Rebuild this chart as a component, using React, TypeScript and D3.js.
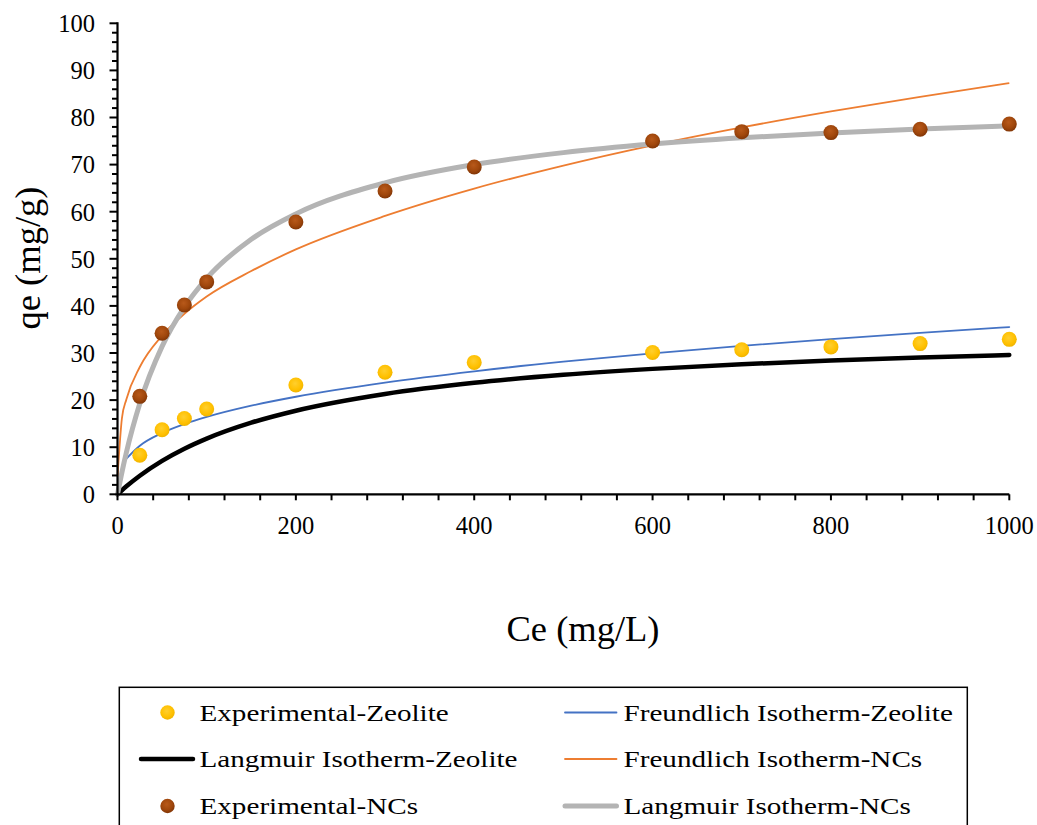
import React from "react";
import * as d3 from "d3";

// ---- data ----
const ceExp = [25, 50, 75, 100, 200, 300, 400, 600, 700, 800, 900, 1000];
const qeExpZeolite = [8.3, 13.7, 16.1, 18.1, 23.2, 25.9, 28.0, 30.1, 30.7, 31.3, 32.0, 32.9];
const qeExpNCs = [20.8, 34.2, 40.2, 45.1, 57.8, 64.4, 69.5, 75.0, 77.0, 76.8, 77.5, 78.6];

const ceLangmuir = [0, 5, 10, 25, 50, 75, 100, 150, 200, 300, 400, 500, 600, 700, 800, 900, 1000];
const qeLangmuirZeolite = [0, 0.87, 1.69, 3.94, 7.1, 9.68, 11.83, 15.21, 17.75, 21.3, 23.67, 25.36, 26.63, 27.61, 28.4, 29.05, 29.58];
const qeLangmuirNCs = [0, 4.71, 8.92, 19.26, 31.4, 39.75, 45.85, 54.15, 59.54, 66.13, 70.0, 72.54, 74.35, 75.69, 76.73, 77.56, 78.24];

const ceFreundlichNCs = [0.05, 5, 10, 25, 50, 75, 100, 150, 200, 300, 400, 500, 600, 700, 800, 900, 1000];
const qeFreundlichNCs = [3.75, 16.2, 20.19, 27.03, 33.69, 38.33, 42.0, 47.4, 52.0, 59.1, 64.9, 69.8, 74.1, 77.9, 81.3, 84.4, 87.3];

const ceFreundlichZeolite = [10, 25, 50, 75, 100, 150, 200, 300, 400, 500, 600, 700, 800, 900, 1000];
const qeFreundlichZeolite = [7.59, 10.32, 13.02, 14.91, 16.42, 18.81, 20.71, 23.72, 26.12, 28.15, 29.92, 31.51, 32.95, 34.28, 35.51];

const xTickLabels = [0, 200, 400, 600, 800, 1000];
const yTickLabels = [0, 10, 20, 30, 40, 50, 60, 70, 80, 90, 100];

const xLabel = "Ce (mg/L)";
const yLabel = "qe (mg/g)";

const legendItems = [
  { label: "Experimental-Zeolite", kind: "dot", color: "url(#gYellow)", col: 0, row: 0 },
  { label: "Langmuir Isotherm-Zeolite", kind: "line", color: "#000000", width: 4.5, col: 0, row: 1 },
  { label: "Experimental-NCs", kind: "dot", color: "url(#gBrown)", col: 0, row: 2 },
  { label: "Freundlich Isotherm-Zeolite", kind: "line", color: "#4472C4", width: 1.8, col: 1, row: 0 },
  { label: "Freundlich Isotherm-NCs", kind: "line", color: "#ED7D31", width: 1.8, col: 1, row: 1 },
  { label: "Langmuir Isotherm-NCs", kind: "line", color: "#B4B4B4", width: 5, col: 1, row: 2 },
];

const FONT = "Liberation Serif";

export default function App() {
  const W = 1037;
  const H = 825;
  const x = d3.scaleLinear().domain([0, 1000]).range([117.5, 1009.3]);
  const y = d3.scaleLinear().domain([0, 100]).range([494.3, 23.3]);

  const mk = (xs: number[], ys: number[]) =>
    d3
      .line<number>()
      .x((_, i) => x(xs[i]))
      .y((v) => y(v))
      .curve(d3.curveMonotoneX)(ys) as string;

  const xMinor = d3.range(0, 1001, 40);
  const yMinor = d3.range(0, 101, 2);

  const legendColX = [167.5, 565];
  const legendTextX = [199.5, 623.5];
  const legendRowY = [712.5, 759, 806];

  return (
    <svg
      width={W}
      height={H}
      style={{ position: "absolute", left: 0, top: 0, display: "block", background: "#fff" }}
    >
      <defs>
        <radialGradient id="gYellow" cx="45%" cy="40%" r="60%">
          <stop offset="0%" stopColor="#FFCF2E" />
          <stop offset="70%" stopColor="#FFC000" />
          <stop offset="100%" stopColor="#F0B400" />
        </radialGradient>
        <radialGradient id="gBrown" cx="45%" cy="38%" r="60%">
          <stop offset="0%" stopColor="#B8591A" />
          <stop offset="65%" stopColor="#A0470C" />
          <stop offset="100%" stopColor="#843707" />
        </radialGradient>
      </defs>
      <rect x={0} y={0} width={W} height={H} fill="#fff" />

      {/* fitted curves */}
      <path d={mk(ceFreundlichNCs, qeFreundlichNCs)} fill="none" stroke="#ED7D31" strokeWidth={1.8} />
      <path d={mk(ceFreundlichZeolite, qeFreundlichZeolite)} fill="none" stroke="#4472C4" strokeWidth={1.8} strokeLinecap="round" />
      <path d={mk(ceLangmuir, qeLangmuirZeolite)} fill="none" stroke="#000" strokeWidth={4.5} strokeLinecap="round" />
      <path d={mk(ceLangmuir, qeLangmuirNCs)} fill="none" stroke="#B4B4B4" strokeWidth={5} strokeLinecap="round" />

      {/* experimental points */}
      {ceExp.map((c, i) => (
        <circle key={"z" + i} cx={x(c)} cy={y(qeExpZeolite[i])} r={7.5} fill="url(#gYellow)" />
      ))}
      {ceExp.map((c, i) => (
        <circle key={"n" + i} cx={x(c)} cy={y(qeExpNCs[i])} r={7.5} fill="url(#gBrown)" />
      ))}

      {/* axes */}
      <line x1={x(0)} x2={x(1000)} y1={y(0)} y2={y(0)} stroke="#000" strokeWidth={2.2} />
      <line x1={x(0)} x2={x(0)} y1={y(0) + 1} y2={y(100) - 1} stroke="#000" strokeWidth={2.2} />
      {xMinor.map((t) => (
        <line key={"xt" + t} x1={x(t)} x2={x(t)} y1={y(0)} y2={y(0) + 6} stroke="#000" strokeWidth={2} />
      ))}
      {yMinor.map((t) => (
        <line
          key={"yt" + t}
          x1={x(0) - (t % 10 === 0 ? 8 : 5.5)}
          x2={x(0)}
          y1={y(t)}
          y2={y(t)}
          stroke="#000"
          strokeWidth={2}
        />
      ))}
      {xTickLabels.map((t) => (
        <text key={"xl" + t} x={x(t)} y={y(0) + 40} textAnchor="middle" fontFamily={FONT} fontSize={24.5} fill="#000">
          {t}
        </text>
      ))}
      {yTickLabels.map((t) => (
        <text key={"yl" + t} x={95} y={y(t) + 8.8} textAnchor="end" fontFamily={FONT} fontSize={24.5} fill="#000">
          {t}
        </text>
      ))}

      {/* axis titles */}
      <text x={583} y={641} textAnchor="middle" fontFamily={FONT} fontSize={36.5} fill="#000">
        {xLabel}
      </text>
      <text
        transform={`translate(40,258) rotate(-90)`}
        textAnchor="middle"
        fontFamily={FONT}
        fontSize={36.5}
        fill="#000"
      >
        {yLabel}
      </text>

      {/* legend */}
      <rect x={119.3} y={687.3} width={848} height={160} fill="#fff" stroke="#000" strokeWidth={1.5} />
      {legendItems.map((it, i) => {
        const cy = legendRowY[it.row];
        const lx = legendColX[it.col];
        return (
          <g key={"lg" + i}>
            {it.kind === "dot" ? (
              <circle cx={lx} cy={cy} r={7.2} fill={it.color} />
            ) : it.col === 0 ? (
              <line x1={141} x2={193} y1={cy} y2={cy} stroke={it.color} strokeWidth={it.width} strokeLinecap="round" />
            ) : (
              <line x1={565} x2={616.5} y1={cy} y2={cy} stroke={it.color} strokeWidth={it.width} strokeLinecap="round" />
            )}
            <text
              transform={`translate(${legendTextX[it.col]},${cy + 8}) scale(1.215,1)`}
              fontFamily={FONT}
              fontSize={24}
              fill="#000"
            >
              {it.label}
            </text>
          </g>
        );
      })}
    </svg>
  );
}
